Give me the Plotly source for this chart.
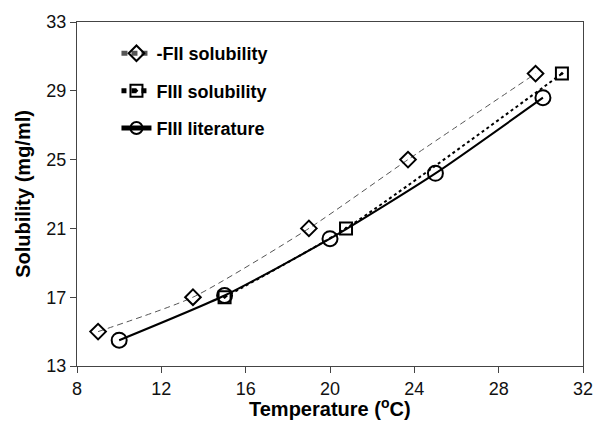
import plotly.graph_objects as go

fii_temp = [9.0, 13.5, 19.0, 23.7, 29.75]
fii_sol = [15.0, 17.0, 21.0, 25.0, 30.0]

fiii_temp = [15.0, 20.76, 31.0]
fiii_sol = [17.0, 21.0, 30.0]

lit_temp = [10.0, 15.0, 20.0, 25.0, 30.1]
lit_sol = [14.5, 17.1, 20.4, 24.2, 28.6]

x_ticks = [8, 12, 16, 20, 24, 28, 32]
y_ticks = [13, 17, 21, 25, 29, 33]

FONT = "Liberation Sans, Arial"

fig = go.Figure()
fig.add_trace(go.Scatter(
    x=fii_temp, y=fii_sol, name="-FII solubility", mode="lines+markers", legendgroup="a",
    line=dict(color="#555555", width=1, dash="6px,4px", shape="spline", smoothing=0.6),
    marker=dict(symbol="diamond-open", size=12, color="black", line=dict(width=2, color="black"))))
fig.add_trace(go.Scatter(
    x=fiii_temp, y=fiii_sol, name="FIII solubility", mode="lines+markers", legendgroup="b",
    line=dict(color="black", width=2, dash="dot", shape="spline", smoothing=0.6),
    marker=dict(symbol="square-open-dot", size=12, color="black", line=dict(width=2, color="black"))))
fig.add_trace(go.Scatter(
    x=lit_temp, y=lit_sol, name="FIII literature", mode="lines+markers", legendgroup="c",
    line=dict(color="black", width=2, shape="spline", smoothing=0.6),
    marker=dict(symbol="circle-open", size=15, color="black", line=dict(width=2, color="black"))))

axis_common = dict(
    showline=True, linecolor="#444444", linewidth=1, mirror=True, automargin=False,
    ticks="outside", ticklen=6, tickcolor="#444444", showgrid=False, zeroline=False,
    tickfont=dict(family=FONT, size=18, color="#111111"),
)
fig.update_xaxes(range=[8, 32], tickvals=x_ticks, ticktext=[str(v) for v in x_ticks], **axis_common)
fig.update_yaxes(range=[13, 33], tickvals=y_ticks, ticktext=[str(v) for v in y_ticks], **axis_common)

fig.add_annotation(text="<b>Temperature (<sup>o</sup>C)</b>", xref="paper", yref="paper",
                   x=0.5, y=-0.12, yanchor="middle", showarrow=False,
                   font=dict(family=FONT, size=20, color="black"))
fig.add_annotation(text="<b>Solubility (mg/ml)</b>", xref="paper", yref="paper",
                   x=-0.107, y=0.5, xanchor="center", yanchor="middle", textangle=-90, showarrow=False,
                   font=dict(family=FONT, size=20, color="black"))

fig.update_layout(
    width=595, height=427,
    margin=dict(l=77, r=12, t=22, b=61),
    plot_bgcolor="white", paper_bgcolor="white",
    legend=dict(x=0.078, y=0.962, xanchor="left", yanchor="top",
                font=dict(family=FONT, size=18, color="black", weight="bold"),
                bgcolor="rgba(0,0,0,0)", itemwidth=30, tracegroupgap=11, itemsizing="constant"),
    showlegend=True,
)
fig.write_html("out.html", config={"displayModeBar": False},
               post_script="document.body.style.margin='0';")
